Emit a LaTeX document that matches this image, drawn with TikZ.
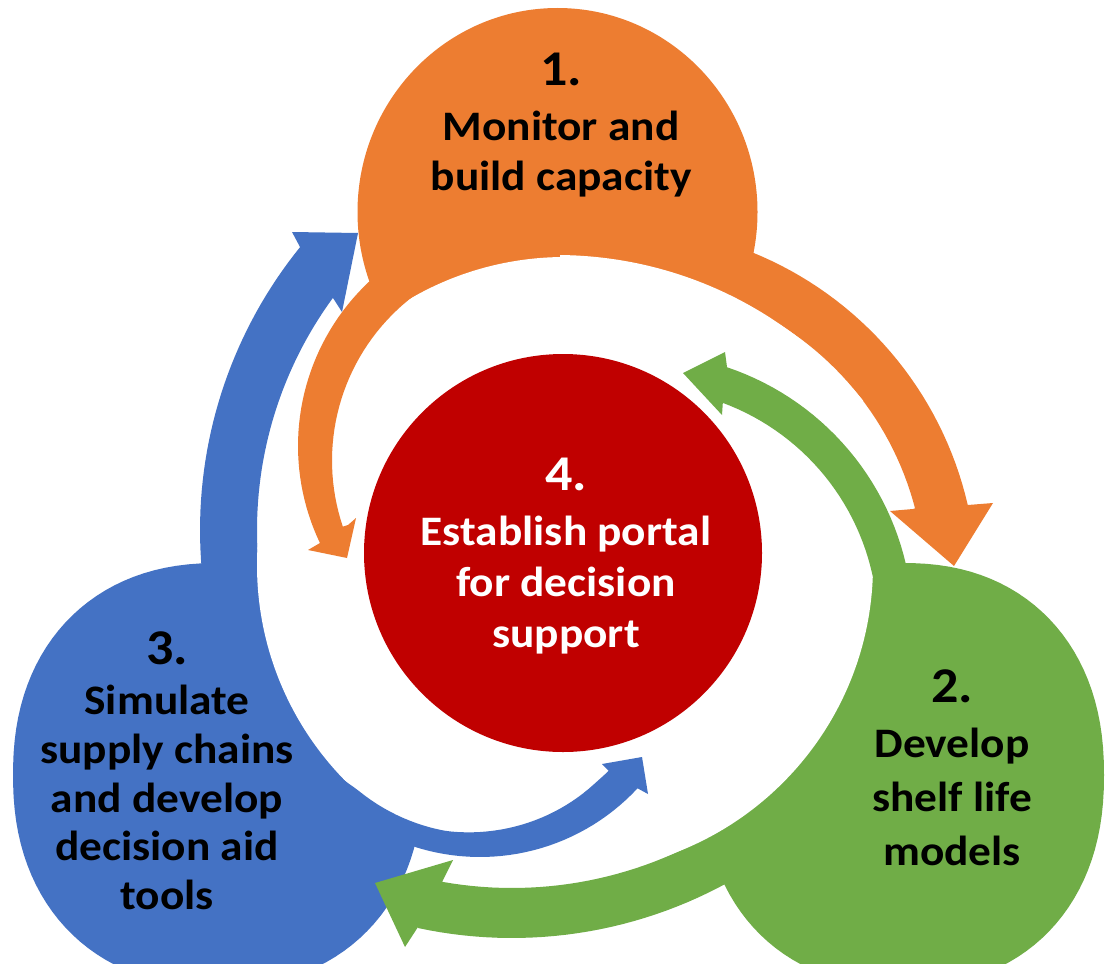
\documentclass[tikz,border=0pt]{standalone}
\usepackage{fontspec}
\setmainfont{Carlito}[FakeStretch=1.08]
\definecolor{cOrange}{HTML}{ED7D31}
\definecolor{cGreen}{HTML}{70AD47}
\definecolor{cBlue}{HTML}{4472C4}
\definecolor{cRed}{HTML}{C00000}
\begin{document}
\begin{tikzpicture}[x=1pt,y=-1pt,
  lbl/.style={align=center, inner sep=0pt, anchor=north, font=\bfseries}]
\newcommand\numsz{\fontsize{50}{50}\selectfont}
\useasboundingbox (0,0) rectangle (1107,963);
\fill[white] (0,0) rectangle (1107,963);
% ---- blobs
\fill[cOrange] (557.5,212) ellipse[x radius=200, y radius=204];
\fill[cGreen] plot[domain=0:360, samples=120]
  ({903+201*cos(\x)*max(abs(cos(\x)),0.001)^(-0.1)},{775+212*sin(\x)*max(abs(sin(\x)),0.001)^(-0.1)}) -- cycle;
\fill[cBlue] plot[domain=0:360, samples=120]
  ({218+205*cos(\x)*max(abs(cos(\x)),0.001)^(-0.1)},{775+212*sin(\x)*max(abs(sin(\x)),0.001)^(-0.1)}) -- cycle;
% ---- outer arrows (clockwise)
\fill[cOrange] plot[domain=-80:-13, samples=40] ({617+360*cos(\x)},{586+360*sin(\x)})
  -- (968,505) -- (993,503) -- (954,566) -- (890,511) -- (913,509)
  -- plot[domain=-14.6:-80, samples=40] ({617+308*cos(\x)},{586+308*sin(\x)}) -- cycle;
\fill[cGreen] plot[domain=45:102.1, samples=40] ({512+448*cos(\x)},{490+448*sin(\x)})
  -- (418,927) -- (405,947) -- (375,883) -- (453,860) -- (442,882)
  -- plot[domain=100.1:45, samples=40] ({512+398*cos(\x)},{490+398*sin(\x)}) -- cycle;
\fill[cBlue] plot[domain=170:218.96, samples=40] ({650+450*cos(\x)},{530+450*sin(\x)})
  -- (300,247) -- (292,232) -- (358,233) -- (342,312) -- (333,298)
  -- plot[domain=216.2:170, samples=40] ({650+393*cos(\x)},{530+393*sin(\x)}) -- cycle;
% ---- white gap
\fill[white] (565,565) circle[radius=308];
\begin{scope}
  \clip (560,0) rectangle (880,400);
  \fill[white] (556,651.5) circle[radius=396.5];
\end{scope}
% ---- inner arrows (counter-clockwise)
\fill[cOrange] plot[domain=250:154.5, samples=50] ({523.5+225.5*cos(\x)},{446+225.5*sin(\x)})
  -- (320,543) -- (308,550) -- (347,558) -- (356,518) -- (348,525)
  -- plot[domain=161.4:265, samples=50] ({539+207*cos(\x)},{460.6+207*sin(\x)}) -- cycle;
\fill[cGreen] plot[domain=10:-71.4, samples=40] ({640+273*cos(\x)},{626+273*sin(\x)})
  -- (727,367) -- (725,352) -- (683,373) -- (722,415) -- (723,400)
  -- plot[domain=-69.8:10, samples=40] ({640+238*cos(\x)},{626+238*sin(\x)}) -- cycle;
\fill[cBlue] plot[domain=150:42.9, samples=50] ({480+215*cos(\x)},{642+215*sin(\x)})
  -- (637,788) -- (648,794) -- (642,757) -- (602,764) -- (610,772)
  -- plot[domain=45:150, samples=50]
   ({480+(182+10*min(1,max(0,(\x-50)/50))+4*min(1,max(0,(\x-130)/10)))*cos(\x)},
    {642+(182+10*min(1,max(0,(\x-50)/50))+4*min(1,max(0,(\x-130)/10)))*sin(\x)}) -- cycle;
% ---- centre
\fill[cRed] (563,553) circle[radius=199];
% ---- labels
\node[lbl, font=\bfseries\fontsize{42}{50}\selectfont] (t1) at (561,53)
  {{\numsz 1.}\\[5pt]Monitor and\\build capacity};
\node[lbl, text=white, font=\bfseries\fontsize{42}{51}\selectfont] (t4) at (566,458)
  {{\numsz 4.}\\[4pt]Establish portal\\for decision\\support};
\node[lbl, font=\bfseries\fontsize{42}{48.5}\selectfont] (t3) at (167,631)
  {{\numsz 3.}\\[2.5pt]Simulate\\supply chains\\and develop\\decision aid\\tools};
\node[lbl, font=\bfseries\fontsize{42}{54}\selectfont] (t2) at (952,669)
  {{\numsz 2.}\\[1pt]Develop\\shelf life\\models};
\end{tikzpicture}
\end{document}
